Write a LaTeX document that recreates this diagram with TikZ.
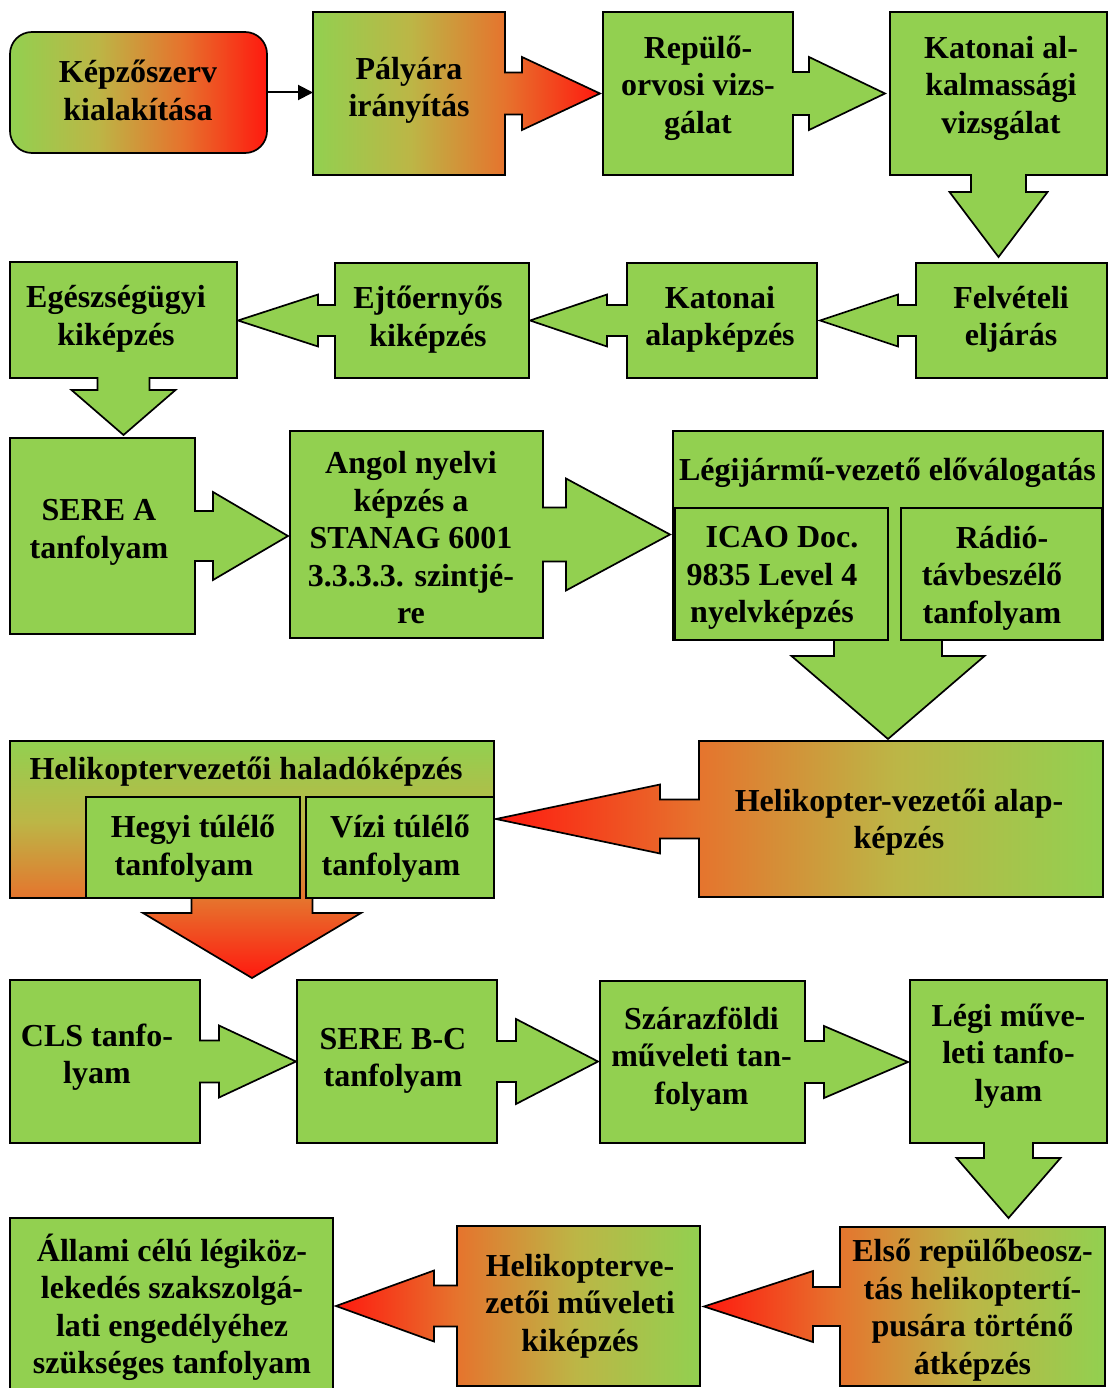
\documentclass[tikz,border=0pt]{standalone}
\usepackage{fontspec}
\setmainfont{Liberation Serif}
\usetikzlibrary{calc,arrows.meta,backgrounds}

\definecolor{gG}{RGB}{146,208,80}
\definecolor{gY}{RGB}{188,182,70}
\definecolor{gO}{RGB}{230,115,45}
\definecolor{gR}{RGB}{255,25,15}
% green -> olive -> orange -> red, spread over the path's bounding box
\pgfdeclarehorizontalshading{gor}{100bp}{color(0bp)=(gG); color(25bp)=(gG); color(42bp)=(gY); color(58.5bp)=(gO); color(75bp)=(gR); color(100bp)=(gR)}

\newcommand{\bodyfont}{\fontsize{32pt}{37.5pt}\selectfont\bfseries}

% box with a block arrow on its right side: style, node, shaft half-height, head half-height, shaft length, tip
\newcommand{\rcall}[6]{%
  \path[#1] (#2.north west) -- (#2.north east) -- ($(#2.east)+(0,-#3)$) -- ($(#2.east)+(#5,-#3)$)
    -- ($(#2.east)+(#5,-#4)$) -- #6 -- ($(#2.east)+(#5,#4)$) -- ($(#2.east)+(#5,#3)$)
    -- ($(#2.east)+(0,#3)$) -- (#2.south east) -- (#2.south west) -- cycle;}
% box with a block arrow on its left side
\newcommand{\lcall}[6]{%
  \path[#1] (#2.north east) -- (#2.north west) -- ($(#2.west)+(0,-#3)$) -- ($(#2.west)+(-#5,-#3)$)
    -- ($(#2.west)+(-#5,-#4)$) -- #6 -- ($(#2.west)+(-#5,#4)$) -- ($(#2.west)+(-#5,#3)$)
    -- ($(#2.west)+(0,#3)$) -- (#2.south west) -- (#2.south east) -- cycle;}
% box with a block arrow below it
\newcommand{\dcall}[6]{%
  \path[#1] (#2.south west) -- (#2.north west) -- (#2.north east) -- (#2.south east)
    -- ($(#2.south)+(#3,0)$) -- ($(#2.south)+(#3,#5)$) -- ($(#2.south)+(#4,#5)$) -- #6
    -- ($(#2.south)+(-#4,#5)$) -- ($(#2.south)+(-#3,#5)$) -- ($(#2.south)+(-#3,0)$) -- cycle;}

\begin{document}
\begin{tikzpicture}[x=1pt,y=-1pt,
  box/.style n args={2}{rectangle, minimum width=#1pt, minimum height=#2pt, inner sep=0pt, outer sep=0pt, draw=none},
  sub/.style n args={2}{box={#1}{#2}, draw=black, line width=2.8pt, fill=gG},
  flat/.style={draw=black, line width=1.7pt, fill=gG, line join=miter},
  grad/.style={draw=black, line width=1.7pt, shade, shading=gor, line join=miter},
  gradL/.style={grad, shading angle=180},
  gradD/.style={grad, shading angle=-90},
  txt/.style={align=center, font=\bodyfont, inner sep=0pt, text=black}]
\useasboundingbox (0,0) rectangle (1108,1388);

% ---- boxes ----
\node[box={257}{121}, draw=black, line width=1.7pt, rounded corners=22pt, shade, shading=gor] (kepzo) at (138.5,92.5) {};
\node[box={192}{163}] (palyara) at (409,93.5) {};
\node[box={190}{163}] (repulo) at (698,93.5) {};
\node[box={217}{163}] (katalk) at (998.5,93.5) {};

\node[box={191}{115}] (felveteli) at (1011.5,320.5) {};
\node[box={190}{115}] (katalap) at (722,320.5) {};
\node[box={194}{115}] (ejto) at (432,320.5) {};
\node[box={227}{116}] (egesz) at (123.5,320) {};

\node[box={185}{196}] (sereA) at (102.5,536) {};
\node[box={253}{207}] (angol) at (416.5,534.5) {};
\node[box={430}{209}] (elovalog) at (888,535.5) {};
\node[sub={213}{132}] (icao) at (781.5,574) {};
\node[sub={201}{132}] (radio) at (1001.5,574) {};

\node[box={404}{156}] (heliAlap) at (901,819) {};
\node[box={484}{157}] (halado) at (252,819.5) {};
\node[sub={214}{101}] (hegyi) at (193,847.5) {};
\node[sub={188}{101}] (vizi) at (400,847.5) {};

\node[box={190}{163}] (cls) at (105,1061.5) {};
\node[box={200}{163}] (sereBC) at (397,1061.5) {};
\node[box={205}{162}] (szaraz) at (702.5,1062) {};
\node[box={197}{163}] (legi) at (1008.5,1061.5) {};

\node[box={323}{176}, flat] (allami) at (171.5,1306) {};
\node[box={243}{160}] (heliMuv) at (578.5,1306) {};
\node[box={265}{159}] (elso) at (972.5,1306.5) {};

% ---- block-arrow outlines behind the boxes ----
\begin{pgfonlayer}{background}
\rcall{grad}{palyara}{21}{36.5}{17}{($(palyara.east -| repulo.west)+(-3,0)$)}
\rcall{flat}{repulo}{21.5}{36.5}{16}{($(repulo.east -| katalk.west)+(-5,0)$)}
\dcall{flat}{katalk}{27.5}{49}{17}{($(katalk.south |- felveteli.north)+(0,-6)$)}
\lcall{flat}{felveteli}{15.5}{26}{18}{($(felveteli.west -| katalap.east)+(3,0)$)}
\lcall{flat}{katalap}{15.5}{26}{20}{($(katalap.west -| ejto.east)+(1,0)$)}
\lcall{flat}{ejto}{15.5}{26}{17}{($(ejto.west -| egesz.east)+(1,0)$)}
\dcall{flat}{egesz}{26}{52}{12}{($(egesz.south |- sereA.north)+(0,-3)$)}
\rcall{flat}{sereA}{25}{44}{18}{($(sereA.east -| angol.west)+(-2,0)$)}
\rcall{flat}{angol}{27}{56}{23}{($(angol.east -| elovalog.west)+(-3,0)$)}
\dcall{flat}{elovalog}{54}{96.5}{16}{($(elovalog.south |- heliAlap.north)+(0,-2)$)}
\lcall{gradL}{heliAlap}{19.5}{34.5}{39}{($(heliAlap.west -| halado.east)+(2,0)$)}
\dcall{gradD}{halado}{60.5}{109}{15}{($(halado.south |- cls.north)+(0,-2)$)}
\rcall{flat}{cls}{21}{36}{19}{($(cls.east -| sereBC.west)+(-1,0)$)}
\rcall{flat}{sereBC}{20.5}{42.5}{19}{($(sereBC.east -| szaraz.west)+(-2,0)$)}
\rcall{flat}{szaraz}{21}{36}{19}{($(szaraz.east -| legi.west)+(-2,0)$)}
\dcall{flat}{legi}{24.5}{52}{15}{($(legi.south |- elso.north)+(0,-9)$)}
\lcall{gradL}{elso}{19.5}{35.5}{27}{($(elso.west -| heliMuv.east)+(4,0)$)}
\lcall{gradL}{heliMuv}{20.5}{35.5}{23}{($(heliMuv.west -| allami.east)+(3,0)$)}
\end{pgfonlayer}

% ---- plain connector ----
\draw[line width=2pt, -{Triangle[length=15pt,width=15pt]}] (kepzo.east) -- (kepzo.east -| palyara.west);

% ---- texts ----
\node[txt] (t-kepzo) at (138,90.5) {Képzőszerv\\kialakítása};
\node[txt] (t-palyara) at (409,90.5) {Pályára\\irányítás};
\node[txt] (t-repulo) at (698,88) {Repülő-\\orvosi vizs-\\gálat};
\node[txt] (t-katalk) at (1001,88) {Katonai al-\\kalmassági\\vizsgálat};

\node[txt] (t-felveteli) at (1011,319.5) {Felvételi\\eljárás};
\node[txt] (t-katalap) at (720,319.5) {Katonai\\alapképzés};
\node[txt] (t-ejto) at (428,319.5) {Ejtőernyős\\kiképzés};
\node[txt] (t-egesz) at (116,319) {Egészségügyi\\kiképzés};

\node[txt] (t-sereA) at (99,532.5) {SERE A\\tanfolyam};
\node[txt] (t-angol) at (411,538) {Angol nyelvi\\képzés a\\STANAG 6001\\3.3.3.3. szintjé-\\re};
\node[txt] (t-elovalog) at (887.5,473) {Légijármű-vezető előválogatás};
\node[txt] (t-icao) at (772,578) {\hspace*{20pt}ICAO Doc.\\9835 Level 4\\nyelvképzés};
\node[txt] (t-radio) at (992,578) {\hspace*{20pt}Rádió-\\távbeszélő\\tanfolyam};

\node[txt] (t-halado) at (246,772) {Helikoptervezetői haladóképzés};
\node[txt] (t-hegyi) at (193,848.5) {Hegyi túlélő\\tanfolyam\hspace*{18pt}};
\node[txt] (t-vizi) at (400,848.5) {Vízi túlélő\\tanfolyam\hspace*{18pt}};
\node[txt] (t-heliAlap) at (899,822) {Helikopter-vezetői alap-\\képzés};

\node[txt] (t-cls) at (97,1057) {CLS tanfo-\\lyam};
\node[txt] (t-sereBC) at (393,1061) {SERE B-C\\tanfolyam};
\node[txt] (t-szaraz) at (701.5,1059) {Szárazföldi\\műveleti tan-\\folyam};
\node[txt] (t-legi) at (1008.5,1056) {Légi műve-\\leti tanfo-\\lyam};

\node[txt] (t-allami) at (172,1307.5) {Állami célú légiköz-\\lekedés szakszolgá-\\lati engedélyéhez\\szükséges tanfolyam};
\node[txt] (t-heliMuv) at (580,1306) {Helikopterve-\\zetői műveleti\\kiképzés};
\node[txt] (t-elso) at (972.5,1310) {Első repülőbeosz-\\tás helikoptertí-\\pusára történő\\átképzés};
\end{tikzpicture}
\end{document}
